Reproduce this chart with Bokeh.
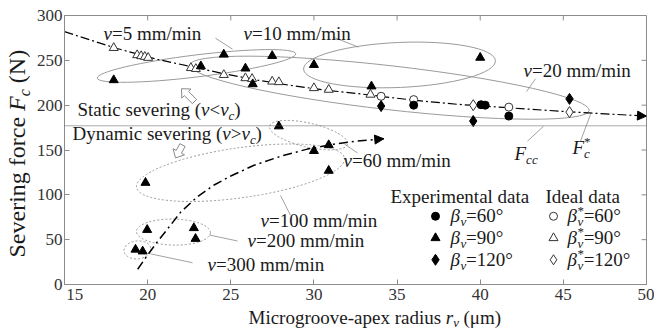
import math
from bokeh.plotting import figure
from bokeh.layouts import row, column
from bokeh.models import Label, Arrow, NormalHead, FixedTicker, Span, Range1d
from bokeh.embed import file_html
from bokeh.resources import INLINE

# ---------------- data ----------------
# ideal severing-force curve F_c* (static severing), r_v in um, force in N
static_curve_r = [15.0, 18.0, 20.6, 22.6, 24.6, 26.6, 28.6, 30.6, 32.6, 34.6, 36.6, 38.6, 41.4, 45.4, 50.0]
static_curve_F = [282.0, 264.0, 251.0, 243.0, 235.0, 228.0, 222.0, 217.0, 213.0, 208.5, 204.5, 201.0, 197.5, 192.5, 187.8]

# trend of the dynamic severing force
dynamic_curve_r = [19.4, 20.0, 20.6, 21.2, 22.0, 23.0, 24.0, 25.0, 26.4, 28.0, 29.6, 31.2, 32.6, 34.2]
dynamic_curve_F = [17.0, 33.0, 48.0, 62.0, 81.0, 98.0, 111.0, 121.0, 133.0, 143.0, 151.0, 156.5, 160.0, 162.5]

# critical severing force F_cc
critical_force = 177.0

# experimental data (filled markers)
exp90_r = [17.96, 24.58, 27.49, 23.2, 25.88, 26.32, 33.46, 30.0, 40.0,
           27.89, 30.0, 30.89, 19.87, 30.89, 19.97, 22.78, 22.88, 19.27, 19.7]
exp90_F = [228.0, 256.5, 255.0, 243.5, 241.0, 223.5, 221.0, 245.0, 253.0,
           176.5, 149.0, 155.5, 113.5, 127.0, 61.0, 63.0, 51.0, 39.0, 37.0]
exp60_r = [36.0, 40.05, 40.3, 41.72]
exp60_F = [200.0, 200.5, 200.0, 187.8]
exp120_r = [34.04, 39.58, 45.37]
exp120_F = [199.0, 182.3, 207.0]

# ideal data (open markers)
ideal60_r = [34.04, 36.0, 41.72]
ideal60_F = [209.9, 206.2, 197.8]
ideal90_r = [17.96, 19.37, 19.61, 19.83, 20.03, 22.6, 22.9, 24.58, 25.88, 26.28, 27.49, 27.89, 30.0, 30.89, 33.4]
ideal90_F = [263.9, 255.9, 254.8, 254.0, 252.9, 241.5, 240.5, 233.8, 230.2, 229.4, 226.4, 225.8, 219.1, 217.3, 211.8]
ideal120_r = [39.58, 45.37]
ideal120_F = [200.0, 192.3]

x_ticks = [15, 20, 25, 30, 35, 40, 45, 50]
y_ticks = [0, 50, 100, 150, 200, 250, 300]

# ---------------- page geometry ----------------
W, H = 654, 329              # whole page
YLAB_W = 32                  # strip holding the vertical axis title
XLAB_H = 23                  # strip holding the horizontal axis title
FL, FR, FT, FB = 64, 646, 15, 287   # plot frame on the page
X0, X1, Y0, Y1 = 15, 50, 0, 300
FONT = "Liberation Serif"
INK = "#1a1a1a"
GRID = "#8c8c8c"

p = figure(width=W - YLAB_W, height=H - XLAB_H, x_range=(X0, X1), y_range=(Y0, Y1),
           output_backend="svg", toolbar_location=None,
           min_border_left=FL - YLAB_W, min_border_right=W - FR,
           min_border_top=FT, min_border_bottom=H - XLAB_H - FB)
p.xgrid.visible = False
p.ygrid.visible = False
p.outline_line_color = GRID
p.background_fill_color = "white"
p.border_fill_color = "white"


def dx(px):
    return X0 + (px - FL) * (X1 - X0) / (FR - FL)


def dy(py):
    return Y1 - (py - FT) * (Y1 - Y0) / (FB - FT)


for ax in (p.xaxis[0], p.yaxis[0]):
    ax.axis_line_color = GRID
    ax.major_tick_line_color = GRID
    ax.major_tick_in = 5
    ax.major_tick_out = 0
    ax.minor_tick_line_color = None
    ax.major_label_text_font = FONT
    ax.major_label_text_font_size = "17px"
    ax.major_label_text_color = "#333333"
p.xaxis.ticker = FixedTicker(ticks=x_ticks)
p.yaxis.ticker = FixedTicker(ticks=y_ticks)
p.xaxis.major_label_standoff = 0
p.yaxis.major_label_standoff = 2
# nudge the first x label clear of the "0" of the y axis
p.xaxis.major_label_overrides = {15: "\u2003\u200915"}

# inward ticks on the top and right edges of the box
tick_dy = 5 * (Y1 - Y0) / (FB - FT)
tick_dx = 5 * (X1 - X0) / (FR - FL)
p.segment(x0=x_ticks, y0=[Y1] * len(x_ticks), x1=x_ticks, y1=[Y1 - tick_dy] * len(x_ticks),
          line_color=GRID, line_width=1)
p.segment(x0=[X1] * len(y_ticks), y0=y_ticks, x1=[X1 - tick_dx] * len(y_ticks), y1=y_ticks,
          line_color=GRID, line_width=1)

# ---------------- rich text helper ----------------
REG = {' ': 250, '(': 333, ')': 333, '*': 500, '-': 333, '/': 278, '<': 564, '=': 564,
       '>': 564, '°': 400, 'μ': 576, 'D': 722, 'E': 611, 'F': 556, 'I': 333, 'M': 889,
       'N': 722, 'S': 556, 'a': 444, 'c': 444, 'd': 500, 'e': 444, 'f': 333, 'g': 500,
       'i': 278, 'l': 278, 'm': 778, 'n': 500, 'o': 500, 'p': 500, 'r': 333, 's': 389,
       't': 278, 'u': 500, 'v': 500, 'x': 500, 'y': 500}
ITA = {'v': 444, 'F': 611, 'c': 444, 'r': 389, 'β': 520}
SMALL = 0.66
MID = 0.3375   # centre of the font box above the baseline, in em


def text_width(text, kind, size):
    tbl = ITA if kind in ("i", "subi") else REG
    fs = size * SMALL if kind in ("subi", "sup") else size
    return sum(tbl.get(ch, REG.get(ch, 500)) for ch in text) * fs / 1000.0


def rich(fig, x0, y0, parts, size=19, angle=0.0, color=INK):
    """Mixed upright/italic text; (x0, y0) is the start of the baseline."""
    adv, last_w = 0.0, 0.0
    for part in parts:
        text, kind = part[0], part[1]
        stacked = len(part) > 2 and part[2]
        italic = kind in ("i", "subi")
        fs = round(size * SMALL) if kind in ("subi", "sup") else size
        shift = -0.2 * size if kind == "subi" else (0.4 * size if kind == "sup" else 0.0)
        up = shift + MID * fs
        start = adv - last_w if stacked else adv
        w = text_width(text, kind, size)
        # leading blanks would be collapsed by the renderer: turn them into an offset
        shown = text.lstrip(" ")
        lead = text_width(text[:len(text) - len(shown)], kind, size)
        if angle == 0:
            xo, yo = start + lead, up
        else:
            xo, yo = -up, start + lead
        fig.add_layout(Label(x=x0, y=y0, x_offset=xo, y_offset=yo, text=shown,
                             text_font=FONT, text_font_size=f"{fs}px",
                             text_font_style="italic" if italic else "normal",
                             text_baseline="middle", text_align="left",
                             angle=angle, text_color=color))
        adv = max(adv, start + w) if stacked else start + w
        last_w = w


def note(px, py, parts, **kw):
    rich(p, dx(px), dy(py), parts, **kw)


# ---------------- group outlines ----------------
# (centre px, centre py, width px, height px, angle deg, dash)
groups = [
    (196, 66, 200, 22, 7.0, "solid"),     # v = 5
    (399, 65, 192, 45, 2.5, "solid"),     # v = 10
    (389, 88, 402, 44, -6.5, "solid"),    # v = 20
    (308, 136, 80, 24, -13.0, "2 2"),     # v = 60
    (240, 174, 210, 50, 8.0, "2 2"),      # v = 100
    (173, 234, 74, 26, -1.0, "2 2"),      # v = 200
    (137, 252, 27, 18, 5.0, "2 2"),       # v = 300
]
for cx, cy, w, h, a, dash in groups:
    p.ellipse(x=[dx(cx)], y=[dy(cy)], width=[w], height=[h], angle=[math.radians(a)],
              width_units="screen", height_units="screen",
              fill_color=None, line_color="#9a9a9a", line_width=1, line_dash=dash)

# leader lines from the labels
leaders = [((215, 38), (232, 49)), ((333, 37), (358, 47)), ((535, 79), (526, 92)),
           ((344, 145), (357, 154)), ((280, 197), (290, 217)), ((209, 237), (237, 243)),
           ((150, 256), (192, 265)), ((527, 142), (543, 127)), ((580, 142), (590, 115))]
p.segment(x0=[dx(a[0]) for a, b in leaders], y0=[dy(a[1]) for a, b in leaders],
          x1=[dx(b[0]) for a, b in leaders], y1=[dy(b[1]) for a, b in leaders],
          line_color="#8a8a8a", line_width=0.8)


def block_arrow(tail, tip, shaft=6.0, head=13.0, head_len=7.0):
    ux, uy = tip[0] - tail[0], tip[1] - tail[1]
    n = math.hypot(ux, uy)
    ux, uy = ux / n, uy / n
    nx, ny = -uy, ux
    bx, by = tip[0] - ux * head_len, tip[1] - uy * head_len
    pts = [(tail[0] + nx * shaft / 2, tail[1] + ny * shaft / 2),
           (bx + nx * shaft / 2, by + ny * shaft / 2),
           (bx + nx * head / 2, by + ny * head / 2),
           tip,
           (bx - nx * head / 2, by - ny * head / 2),
           (bx - nx * shaft / 2, by - ny * shaft / 2),
           (tail[0] - nx * shaft / 2, tail[1] - ny * shaft / 2)]
    p.patch([dx(q[0]) for q in pts], [dy(q[1]) for q in pts],
            fill_color="white", line_color="#8a8a8a", line_width=1)


block_arrow((194, 102), (181, 89))
block_arrow((182, 146), (175, 159))

# ---------------- curves ----------------
p.add_layout(Span(location=critical_force, dimension="width", line_color="#555555",
                  line_width=1, line_dash="1 1"))
p.line(static_curve_r, static_curve_F, line_color="black", line_width=1.2, line_dash="9 3 2 3")
p.line(dynamic_curve_r, dynamic_curve_F, line_color="black", line_width=1.5, line_dash="9 4 2 4")
for xs, ys in ((static_curve_r, static_curve_F), (dynamic_curve_r, dynamic_curve_F)):
    p.add_layout(Arrow(end=NormalHead(size=9, fill_color="black", line_color="black"),
                       x_start=xs[-2], y_start=ys[-2], x_end=xs[-1], y_end=ys[-1],
                       line_alpha=0))

# ---------------- markers ----------------
OPEN = dict(fill_color="white", line_color="#333333", line_width=1)
p.scatter(ideal90_r, ideal90_F, marker="triangle", size=9, **OPEN)
p.scatter(ideal60_r, ideal60_F, marker="circle", size=8, **OPEN)
p.scatter(ideal120_r, ideal120_F, marker="diamond", size=11, **OPEN)
p.scatter(exp90_r, exp90_F, marker="triangle", size=9, color="black")
p.scatter(exp60_r, exp60_F, marker="circle", size=8, color="black")
p.scatter(exp120_r, exp120_F, marker="diamond", size=11, color="black")

# ---------------- annotations ----------------
note(103, 40, [("v", "i"), ("=5 mm/min", "n")])
note(243, 40, [("v", "i"), ("=10 mm/min", "n")])
note(523, 77, [("v", "i"), ("=20 mm/min", "n")])
note(343, 168, [("v", "i"), ("=60 mm/min", "n")])
note(260, 229, [("v", "i"), ("=100 mm/min", "n")])
note(247, 249, [("v", "i"), ("=200 mm/min", "n")])
note(207, 273, [("v", "i"), ("=300 mm/min", "n")])
note(77, 117, [("Static severing (", "n"), ("v", "i"), ("<", "n"), ("v", "i"), ("c", "subi"), (")", "n")])
note(72, 141, [("Dynamic severing (", "n"), ("v", "i"), (">", "n"), ("v", "i"), ("c", "subi"), (")", "n")])
note(514, 161, [("F", "i"), ("cc", "subi")])
note(572, 155, [("F", "i"), ("c", "subi"), ("*", "sup", True)])

# legend
note(390, 204, [("Experimental data", "n")])
note(545, 204, [("Ideal data", "n")])
rows = [("=60°", "circle", 8, 8), ("=90°", "triangle", 9, 9), ("=120°", "diamond", 11, 10)]
for i, (txt, mk, s_exp, s_ideal) in enumerate(rows):
    base = 224 + 22 * i
    p.scatter([dx(435)], [dy(base - 6)], marker=mk, size=s_exp, color="black")
    p.scatter([dx(553)], [dy(base - 6)], marker=mk, size=s_ideal, **OPEN)
    note(450, base, [("β", "i"), ("v", "subi"), (txt, "n")])
    note(567, base, [("β", "i"), ("v", "subi"), ("*", "sup", True), (txt, "n")])


# ---------------- axis titles (own strips, page pixel coordinates) ----------------
def strip(w, h, xr, yr, left=0, right=0):
    f = figure(width=w, height=h, x_range=Range1d(*xr), y_range=Range1d(*yr),
               x_axis_type=None, y_axis_type=None,
               min_border_left=left, min_border_right=right,
               min_border_top=0, min_border_bottom=0,
               output_backend="svg", toolbar_location=None)
    f.outline_line_color = None
    f.background_fill_color = "white"
    f.border_fill_color = "white"
    return f


ylab = strip(YLAB_W, H, (0, YLAB_W), (H, 0))
# the column lines this strip's frame up with the plot frame, so map it the same way
xlab = strip(W - YLAB_W, XLAB_H, (FL, FR), (H, H - XLAB_H), left=FL - YLAB_W, right=W - FR)
rich(xlab, 248, 323, [("Microgroove-apex radius ", "n"), ("r", "i"), ("v", "subi"), (" (μm)", "n")])
rich(ylab, 25, 257, [("Severing force ", "n"), ("F", "i"), ("c", "subi"), (" (N)", "n")],
     size=24, angle=math.pi / 2)

layout = row(ylab, column(p, xlab))
open("out.html", "w").write(file_html(layout, INLINE))
